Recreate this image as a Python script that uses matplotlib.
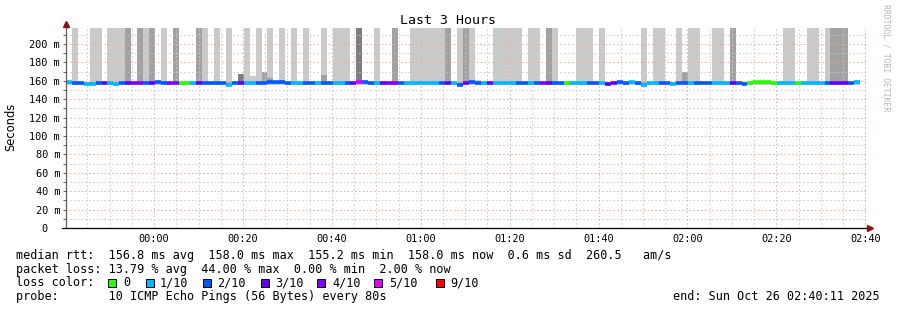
"""
SmokePing style latency graph - Last 3 Hours
"""
import numpy as np
import matplotlib
matplotlib.use('Agg')
import matplotlib.pyplot as plt
from matplotlib.patches import Rectangle

# ---- data -------------------------------------------------------------
start_min = -19.82          # 23:40:11 relative to 00:00
step_min = 80 / 60          # one probe every 80 s

# median rtt per sample (ms)
median_ms = [
    158.8, 157.2, 157.2, 157.0, 157.0, 157.2, 158.0, 157.6, 156.8, 157.4,
    157.6, 157.6, 157.6, 157.6, 157.4, 158.2, 157.8, 157.6, 157.6, 157.4,
    158.0, 157.8, 157.6, 157.6, 157.6, 157.4, 157.4, 155.8, 157.6, 157.4,
    157.8, 157.8, 157.8, 157.6, 158.2, 158.2, 158.2, 158.0, 157.6, 157.6,
    157.6, 157.6, 157.8, 158.0, 158.0, 157.6, 157.6, 157.8, 158.0, 158.4,
    158.2, 157.6, 157.6, 157.2, 157.8, 157.8, 157.4, 157.6, 157.6, 157.6,
    157.6, 157.6, 157.6, 157.6, 157.6, 157.6, 155.8, 157.4, 158.6, 157.6,
    157.2, 157.2, 157.6, 157.6, 157.4, 157.4, 157.4, 157.4, 157.6, 157.6,
    157.6, 157.6, 157.2, 157.2, 157.4, 157.6, 157.8, 157.8, 157.2, 157.2,
    157.6, 157.0, 158.0, 158.2, 158.0, 158.2, 157.2, 155.8, 157.4, 157.4,
    157.6, 157.2, 156.8, 157.8, 157.6, 157.8, 157.2, 157.2, 157.2, 157.6,
    157.4, 157.4, 158.0, 157.4, 157.0, 158.0, 158.2, 158.2, 158.2, 157.4,
    157.4, 157.4, 157.4, 158.0, 157.6, 157.6, 157.4, 157.4, 157.4, 157.6,
    157.6, 157.6, 157.2, 158.8,
]

# lost pings out of 10 per sample
loss_tenths = [
    1, 2, 2, 1, 1, 2, 3, 1, 1, 2,
    3, 4, 4, 2, 3, 2, 2, 4, 4, 0,
    0, 1, 3, 2, 2, 2, 2, 1, 2, 3,
    1, 1, 2, 2, 2, 2, 2, 2, 1, 1,
    2, 2, 1, 2, 2, 1, 1, 2, 3, 5,
    2, 2, 1, 3, 4, 4, 2, 1, 1, 1,
    1, 1, 1, 2, 3, 1, 2, 3, 2, 2,
    1, 3, 1, 1, 1, 1, 2, 2, 1, 2,
    4, 3, 2, 2, 0, 1, 1, 1, 2, 2,
    1, 3, 3, 2, 2, 1, 2, 1, 1, 1,
    2, 2, 1, 2, 2, 1, 2, 2, 2, 1,
    1, 1, 3, 2, 2, 0, 0, 0, 0, 0,
    1, 1, 1, 0, 1, 1, 1, 1, 2, 3,
    3, 3, 2, 1,
]

# smoke: samples whose outer / inner / core pings run off the top
smoke_light_tall = [1, 4, 5, 7, 8, 9, 13, 16, 23, 25, 27, 30, 32, 34, 36, 38,
                    40, 43, 45, 46, 47, 52, 58, 59, 60, 61, 62, 63, 66, 68,
                    72, 73, 74, 75, 76, 78, 79, 82, 86, 87, 88, 90, 97, 99,
                    100, 103, 105, 106, 109, 110, 121, 122, 125, 126, 128]
smoke_mid_tall = [10, 12, 14, 18, 22, 55, 64, 67, 81, 112, 129, 130, 131]
smoke_dark_tall = [49]
# lower smoke bumps (sample, ms)
smoke_light_bumps = [(31, 165), (69, 161), (133, 161)]
smoke_mid_bumps = [(33, 170), (34, 163), (36, 161), (43, 166), (104, 170)]
smoke_dark_bumps = [(29, 167)]

loss_labels = ['0', '1/10', '2/10', '3/10', '4/10', '5/10', '9/10']
loss_colors = {0: '#26ff00', 1: '#00b8ff', 2: '#0059ff', 3: '#5e00ff',
               4: '#7e00ff', 5: '#dd00ff', 9: '#ff0000'}

x_major = [0, 20, 40, 60, 80, 100, 120, 140, 160]
x_labels = ['00:00', '00:20', '00:40', '01:00', '01:20', '01:40', '02:00', '02:20', '02:40']
y_major = [0, 20, 40, 60, 80, 100, 120, 140, 160, 180, 200]
y_labels = ['0  ', '20 m', '40 m', '60 m', '80 m', '100 m', '120 m', '140 m',
            '160 m', '180 m', '200 m']

legend_lines = [
    'median rtt:  156.8 ms avg  158.0 ms max  155.2 ms min  158.0 ms now  0.6 ms sd  260.5   am/s',
    'packet loss: 13.79 % avg  44.00 % max  0.00 % min  2.00 % now',
    'loss color:',
    'probe:       10 ICMP Echo Pings (56 Bytes) every 80s',
]
end_text = 'end: Sun Oct 26 02:40:11 2025'

# ---- figure -----------------------------------------------------------
W, H = 897, 310
MONO = 'DejaVu Sans Mono'
fig = plt.figure(figsize=(W / 100, H / 100), dpi=100)
fig.patch.set_facecolor('white')


def px(x, y):
    return x / W, 1 - y / H


ax = fig.add_axes([66 / W, 82 / H, 800 / W, 200 / H])
x_end = start_min + 180
ax.set_xlim(start_min, x_end)
ax.set_ylim(0, 217.4)

n = len(median_ms)
x_left = np.array([start_min + i * step_min for i in range(n)])

# build smoke tops
light_top = np.full(n, 159.2)
mid_top = np.full(n, 158.6)
dark_top = np.full(n, 156.3)
for i in smoke_light_tall:
    light_top[i] = 240
for i in smoke_mid_tall:
    light_top[i] = 240
    mid_top[i] = 240
for i in smoke_dark_tall:
    light_top[i] = 240
    mid_top[i] = 240
    dark_top[i] = 240
for i, v in smoke_light_bumps:
    light_top[i] = v
for i, v in smoke_mid_bumps:
    mid_top[i] = v
    light_top[i] = max(light_top[i], v)
for i, v in smoke_dark_bumps:
    dark_top[i] = v
    mid_top[i] = max(mid_top[i], v)
    light_top[i] = max(light_top[i], v)

ax.bar(x_left, light_top - 155.5, bottom=155.5, width=step_min, align='edge',
       color='#cacaca', linewidth=0, zorder=1)
ax.bar(x_left, mid_top - 156.0, bottom=156.0, width=step_min, align='edge',
       color='#a2a2a2', linewidth=0, zorder=1.1)
ax.bar(x_left, dark_top - 156.3, bottom=156.3, width=step_min, align='edge',
       color='#7e7e7e', linewidth=0, zorder=1.2)

# median line coloured by loss
ax.hlines(median_ms, x_left, x_left + step_min,
          colors=[loss_colors[l] for l in loss_tenths], linewidth=2.6, zorder=4)

# grid
x_minor = [m for m in range(-15, 160, 5) if m not in x_major]
y_minor = [v for v in range(10, 220, 10) if v not in y_major]
ax.set_xticks(x_major)
ax.set_xticklabels(x_labels)
ax.set_xticks(x_minor, minor=True)
ax.set_yticks(y_major)
ax.set_yticklabels(y_labels)
ax.set_yticks(y_minor, minor=True)
ax.grid(which='minor', color='#c8c8c8', linestyle=(0, (1.4, 2.4)), linewidth=0.72)
ax.grid(which='major', color='#f2a4a4', linestyle=(0, (1.4, 2.4)), linewidth=0.72)
ax.set_axisbelow(False)

for s in ax.spines.values():
    s.set_visible(False)
ax.tick_params(axis='x', which='both', length=0, pad=4)
ax.tick_params(axis='y', which='major', length=2, width=0.7, color='#606060', pad=2.3)
ax.tick_params(axis='y', which='minor', length=2, width=0.7, color='#606060')
for lab in ax.get_xticklabels() + ax.get_yticklabels():
    lab.set_fontfamily(MONO)
    lab.set_fontsize(7.4)
    lab.set_color('black')

# axes lines with arrows
ax.plot([0, 0], [0, 1.015], transform=ax.transAxes, color='#606060', lw=0.9,
        clip_on=False, zorder=5)
ax.plot([-0.005, 1.004], [0, 0], transform=ax.transAxes, color='black', lw=0.9,
        clip_on=False, zorder=5)
ax.plot([0], [1.02], transform=ax.transAxes, marker='^', color='#8b1010',
        markersize=4.5, clip_on=False, zorder=6)
ax.plot([1.0055], [0], transform=ax.transAxes, marker='>', color='#8b1010',
        markersize=4.5, clip_on=False, zorder=6)

# titles
fig.text(*px(448, 20), 'Last 3 Hours', ha='center', va='center',
         family=MONO, fontsize=9.5)
fig.text(*px(11, 127), 'Seconds', rotation=90, ha='center', va='center',
         family='DejaVu Sans', fontsize=8.3)
fig.text(*px(886, 4), 'RRDTOOL / TOBI OETIKER', rotation=270, ha='center',
         va='top', family=MONO, fontsize=5.9, color='#b8b8b8')

# legend text
baselines = [258.7, 272.5, 286.3, 300.3]
for line, yb in zip(legend_lines, baselines):
    fig.text(*px(16, yb), line, ha='left', va='baseline', family=MONO, fontsize=8.47)
fig.text(*px(880, baselines[3]), end_text, ha='right', va='baseline',
         family=MONO, fontsize=8.47)

box_x = [108, 146, 203, 261, 317, 374, 436]
label_x = [123, 160, 217, 275, 332, 389, 450]
for bx, lx, lab, key in zip(box_x, label_x, loss_labels, [0, 1, 2, 3, 4, 5, 9]):
    fx, fy = px(bx, 286.5)
    fig.add_artist(Rectangle((fx, fy), 8 / W, 8 / H, transform=fig.transFigure,
                             facecolor=loss_colors[key], edgecolor='black', linewidth=0.7))
    fig.text(*px(lx, baselines[2]), lab, ha='left', va='baseline', family=MONO, fontsize=8.47)

fig.savefig('out.png', dpi=100, facecolor='white')
